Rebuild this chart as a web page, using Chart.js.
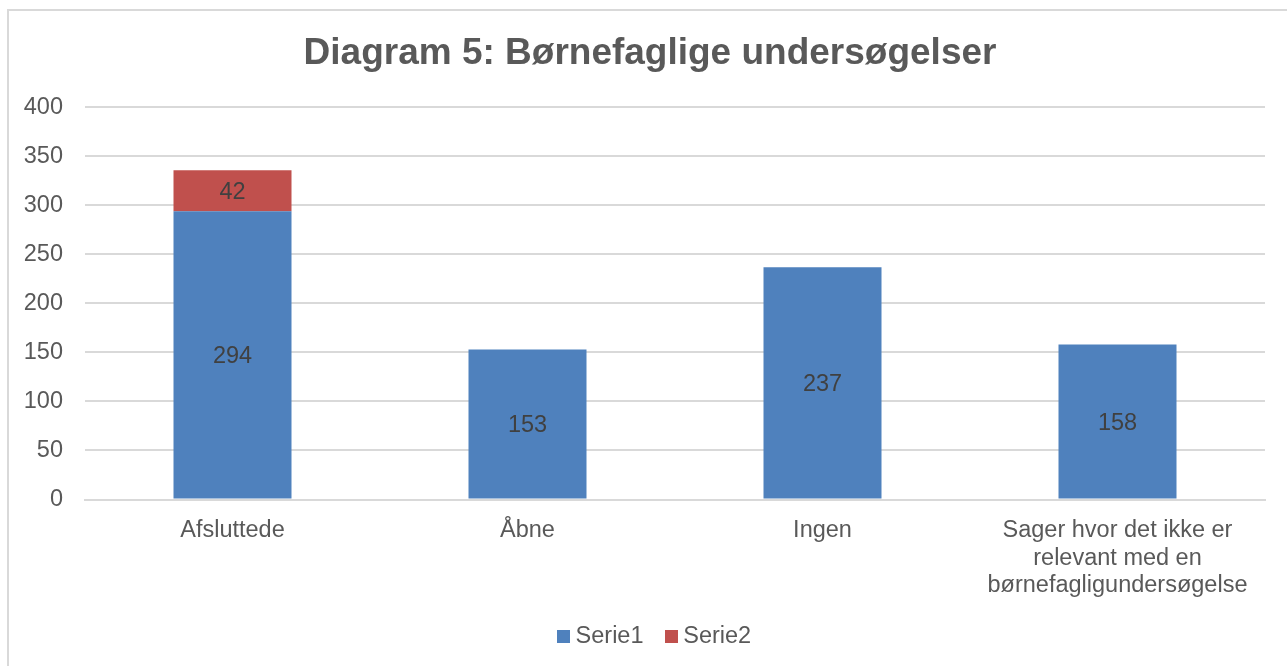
<!DOCTYPE html>
<html>
<head>
<meta charset="utf-8">
<script src="https://cdn.jsdelivr.net/npm/chart.js@4.4.0/dist/chart.umd.min.js"></script>
<style>
  html, body { margin: 0; padding: 0; background: #ffffff; overflow: hidden; }
  #frame { position: absolute; left: 7px; top: 9px; width: 1300px; height: 700px;
           border: 2px solid #d9d9d9; box-sizing: border-box; }
  #wrap { position: absolute; left: 0; top: 0; width: 1287px; height: 666px; }
</style>
</head>
<body>
<div id="frame"></div>
<div id="wrap"><canvas id="c" width="1287" height="666"></canvas></div>
<script>
const titleText = 'Diagram 5: Børnefaglige undersøgelser';
const categories = ['Afsluttede', 'Åbne', 'Ingen',
  ['Sager hvor det ikke er', 'relevant med en', 'børnefagligundersøgelse']];
const serie1 = [294, 153, 237, 158];
const serie2 = [42, null, null, null];
const seriesNames = ['Serie1', 'Serie2'];
const seriesColors = ['#4f81bd', '#c0504d'];
const yTicks = [0, 50, 100, 150, 200, 250, 300, 350, 400];

const FONT = '"Liberation Sans", Arial, sans-serif';

function swatch(color) {
  const c = document.createElement('canvas');
  c.width = 13; c.height = 13;
  const g = c.getContext('2d');
  g.fillStyle = color;
  g.fillRect(0, 0, 13, 13);
  return c;
}
const swatches = seriesColors.map(swatch);

const dataLabels = {
  id: 'dataLabels',
  afterDatasetsDraw(chart) {
    const ctx = chart.ctx;
    ctx.save();
    ctx.font = '23.5px ' + FONT;
    ctx.fillStyle = '#404040';
    ctx.textAlign = 'center';
    ctx.textBaseline = 'middle';
    chart.data.datasets.forEach((ds, di) => {
      const meta = chart.getDatasetMeta(di);
      meta.data.forEach((el, i) => {
        const v = ds.data[i];
        if (v === null || v === undefined) return;
        const p = el.getProps(['x', 'y', 'base'], true);
        ctx.fillText(String(v), p.x, (p.y + p.base) / 2 + 2);
      });
    });
    ctx.restore();
  }
};

const chart = new Chart(document.getElementById('c'), {
  type: 'bar',
  data: {
    labels: categories,
    datasets: [
      { label: seriesNames[0], data: serie1, backgroundColor: seriesColors[0], borderWidth: 0,
        barPercentage: 0.4, categoryPercentage: 1.0, stack: 's' },
      { label: seriesNames[1], data: serie2, backgroundColor: seriesColors[1], borderWidth: 0,
        barPercentage: 0.4, categoryPercentage: 1.0, stack: 's' }
    ]
  },
  options: {
    responsive: false,
    animation: false,
    layout: { padding: { top: 10, left: 13, right: 0, bottom: 8 } },
    plugins: {
      title: {
        display: true, text: titleText, color: '#595959',
        font: { family: FONT, size: 37, weight: 'bold' },
        padding: { top: 22, bottom: 31 }
      },
      legend: {
        display: true, position: 'bottom',
        labels: {
          color: '#595959', font: { family: FONT, size: 23.5 },
          usePointStyle: true, boxWidth: 1, boxHeight: 13, padding: 27,
          generateLabels(chart) {
            const items = Chart.defaults.plugins.legend.labels.generateLabels(chart);
            items.forEach((it, i) => { it.pointStyle = swatches[i]; });
            return items;
          }
        }
      },
      tooltip: { enabled: false }
    },
    scales: {
      x: {
        stacked: true,
        grid: { display: false, drawTicks: false },
        border: { display: true, color: '#d9d9d9', width: 2 },
        ticks: { color: '#595959', font: { family: FONT, size: 23.5, lineHeight: 1.15 },
                 padding: 18, maxRotation: 0, autoSkip: false },
        afterFit(s) { s.height = 98; }
      },
      y: {
        stacked: true, min: 0, max: 400,
        afterBuildTicks(s) { s.ticks = yTicks.map(v => ({ value: v })); },
        grid: { color: '#d9d9d9', lineWidth: 2, drawTicks: false },
        border: { display: false },
        ticks: { color: '#595959', font: { family: FONT, size: 23.5 }, padding: 22 },
        afterFit(s) { s.width = 72; }
      },
      yRight: {
        position: 'right', display: true,
        grid: { display: false, drawTicks: false },
        border: { display: false },
        ticks: { display: false },
        afterFit(s) { s.width = 22; }
      }
    }
  },
  plugins: [dataLabels]
});

// nudge legend horizontally to match reference placement
const legendDraw = chart.legend.draw;
chart.legend.draw = function () {
  const ctx = this.ctx;
  ctx.save();
  ctx.translate(7, 0);
  legendDraw.apply(this, arguments);
  ctx.restore();
};
chart.draw();
</script>
</body>
</html>
